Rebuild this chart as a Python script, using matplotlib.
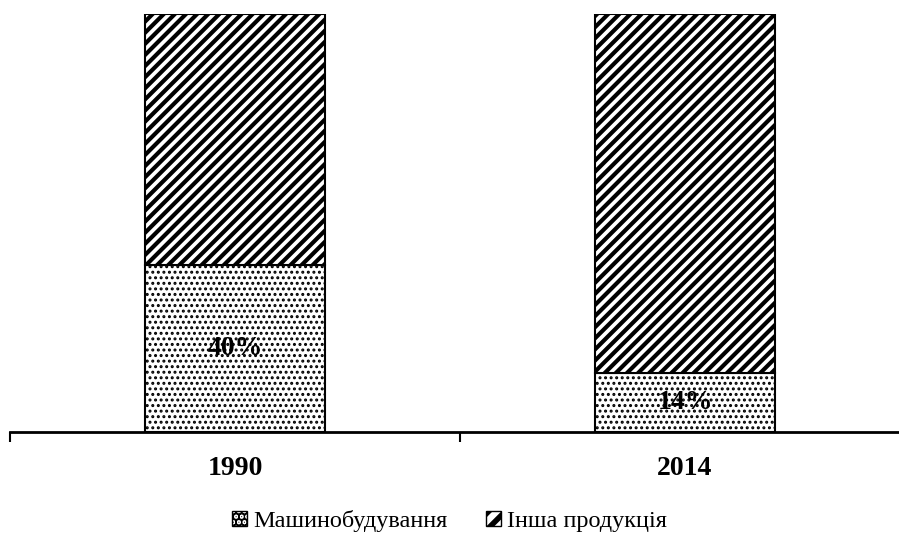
import matplotlib
matplotlib.use("Agg")
import matplotlib.pyplot as plt
from matplotlib.patches import Patch

categories = ["1990", "2014"]
machine = [40, 14]
other = [60, 86]
labels = ["40%", "14%"]
series_names = ["Машинобудування", "Інша продукція"]

plt.rcParams['font.family'] = ['Liberation Serif', 'DejaVu Serif']

fig = plt.figure(figsize=(8.99, 5.36), dpi=100)
ax = fig.add_axes([10/899, 104/536, 900/899, 418/536])

x = range(len(categories))
plt.rcParams['hatch.linewidth'] = 1.4
b1 = ax.bar(x, machine, width=0.4, color='white', edgecolor='black', hatch='...', linewidth=1.5)
plt.rcParams['hatch.linewidth'] = 3.0
b2 = ax.bar(x, other, bottom=machine, width=0.4, color='white', edgecolor='black', hatch='///', linewidth=1.5)

for i, (v, lab) in enumerate(zip(machine, labels)):
    ax.text(i, v / 2, lab, ha='center', va='center', fontsize=20, fontweight='bold')

ax.set_xlim(-0.5, 1.5)
ax.set_ylim(0, 100)
ax.set_xticks([-0.5, 0.5, 1.5])
ax.set_xticklabels([])
ax.tick_params(axis='x', which='major', length=7, width=1.5, direction='out')
ax.set_xticks(list(x), minor=True)
ax.set_xticklabels(categories, minor=True, fontsize=20, fontweight='bold')
ax.tick_params(axis='x', which='minor', length=0, pad=17)
ax.set_yticks([])
for s in ['top', 'right', 'left']:
    ax.spines[s].set_visible(False)
ax.spines['bottom'].set_linewidth(2)

plt.rcParams['hatch.linewidth'] = 1.0
h1 = Patch(facecolor='white', edgecolor='black', hatch='...', linewidth=1)
plt.rcParams['hatch.linewidth'] = 4.0
h2 = Patch(facecolor='white', edgecolor='black', hatch='//', linewidth=1)
fig.legend([h1, h2], series_names, loc='center', bbox_to_anchor=(0.5, 15/536), ncol=2, frameon=False,
           fontsize=17.5, handlelength=0.6, handleheight=0.6, handletextpad=0.25, columnspacing=1.6,
           borderpad=0)

fig.savefig("out.png", dpi=100)
